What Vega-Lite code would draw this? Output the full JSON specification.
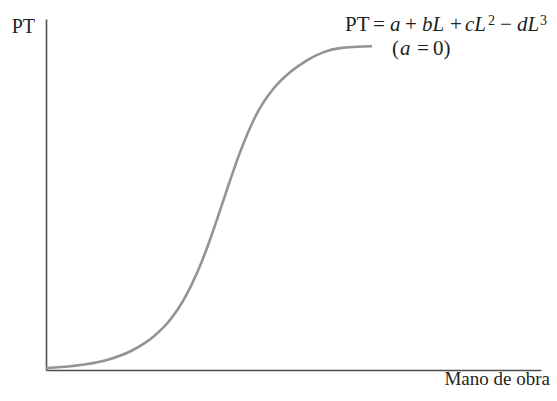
{
  "$schema": "https://vega.github.io/schema/vega-lite/v6.json",
  "width": 495,
  "height": 351,
  "autosize": {"type": "none"},
  "padding": {"left": 46, "top": 19, "right": 16, "bottom": 31},
  "background": "white",
  "config": {
    "view": {"stroke": null},
    "text": {"font": "Liberation Serif", "fontSize": 21, "color": "#231f20", "align": "left", "baseline": "alphabetic"}
  },
  "data": {"values": [{}]},
  "datasets": {
    "curve": [
      {"L": 0, "PT": 2}, {"L": 27, "PT": 4}, {"L": 61, "PT": 10}, {"L": 87, "PT": 20},
      {"L": 107, "PT": 33}, {"L": 124, "PT": 50}, {"L": 137, "PT": 69}, {"L": 151, "PT": 97},
      {"L": 161, "PT": 122}, {"L": 171, "PT": 150.5}, {"L": 181, "PT": 180.5}, {"L": 194, "PT": 217.6},
      {"L": 211, "PT": 256.7}, {"L": 227, "PT": 280.7}, {"L": 244, "PT": 297.7}, {"L": 261, "PT": 309.6},
      {"L": 277, "PT": 317.6}, {"L": 294, "PT": 321.9}, {"L": 326, "PT": 323.8}
    ]
  },
  "layer": [
    {
      "data": {"name": "curve"},
      "mark": {"type": "line", "color": "#939393", "strokeWidth": 2.6, "interpolate": "monotone", "clip": false},
      "encoding": {
        "x": {"field": "L", "type": "quantitative", "scale": {"domain": [0, 495], "nice": false, "zero": false},
          "axis": {"title": null, "labels": false, "ticks": false, "grid": false, "domainColor": "#4d4d4d", "domainWidth": 1.6}},
        "y": {"field": "PT", "type": "quantitative", "scale": {"domain": [0, 351], "nice": false, "zero": false},
          "axis": {"title": null, "labels": false, "ticks": false, "grid": false, "domainColor": "#4d4d4d", "domainWidth": 1.6}}
      }
    },
    {"mark": {"type": "text", "text": "PT", "fontSize": 20}, "encoding": {"x": {"datum": -34.3}, "y": {"datum": 337.3}}},
    {"mark": {"type": "text", "text": "Mano de obra", "align": "right", "fontSize": 19}, "encoding": {"x": {"datum": 504}, "y": {"datum": -15}}},
    {"mark": {"type": "text", "text": "PT"}, "encoding": {"x": {"datum": 299}, "y": {"datum": 339.3}}},
    {"mark": {"type": "text", "text": "="}, "encoding": {"x": {"datum": 327}, "y": {"datum": 339.3}}},
    {"mark": {"type": "text", "text": "a", "fontStyle": "italic"}, "encoding": {"x": {"datum": 344}, "y": {"datum": 339.3}}},
    {"mark": {"type": "text", "text": "+"}, "encoding": {"x": {"datum": 359}, "y": {"datum": 339.3}}},
    {"mark": {"type": "text", "text": "bL", "fontStyle": "italic"}, "encoding": {"x": {"datum": 376}, "y": {"datum": 339.3}}},
    {"mark": {"type": "text", "text": "+"}, "encoding": {"x": {"datum": 404}, "y": {"datum": 339.3}}},
    {"mark": {"type": "text", "text": "cL", "fontStyle": "italic"}, "encoding": {"x": {"datum": 419}, "y": {"datum": 339.3}}},
    {"mark": {"type": "text", "text": "2", "fontSize": 14}, "encoding": {"x": {"datum": 442}, "y": {"datum": 345.3}}},
    {"mark": {"type": "text", "text": "−"}, "encoding": {"x": {"datum": 454}, "y": {"datum": 339.3}}},
    {"mark": {"type": "text", "text": "dL", "fontStyle": "italic"}, "encoding": {"x": {"datum": 471}, "y": {"datum": 339.3}}},
    {"mark": {"type": "text", "text": "3", "fontSize": 14}, "encoding": {"x": {"datum": 494}, "y": {"datum": 345.3}}},
    {"mark": {"type": "text", "text": "("}, "encoding": {"x": {"datum": 346}, "y": {"datum": 315}}},
    {"mark": {"type": "text", "text": "a", "fontStyle": "italic"}, "encoding": {"x": {"datum": 354}, "y": {"datum": 315}}},
    {"mark": {"type": "text", "text": "="}, "encoding": {"x": {"datum": 371}, "y": {"datum": 315}}},
    {"mark": {"type": "text", "text": "0)"}, "encoding": {"x": {"datum": 387}, "y": {"datum": 315}}}
  ]
}
